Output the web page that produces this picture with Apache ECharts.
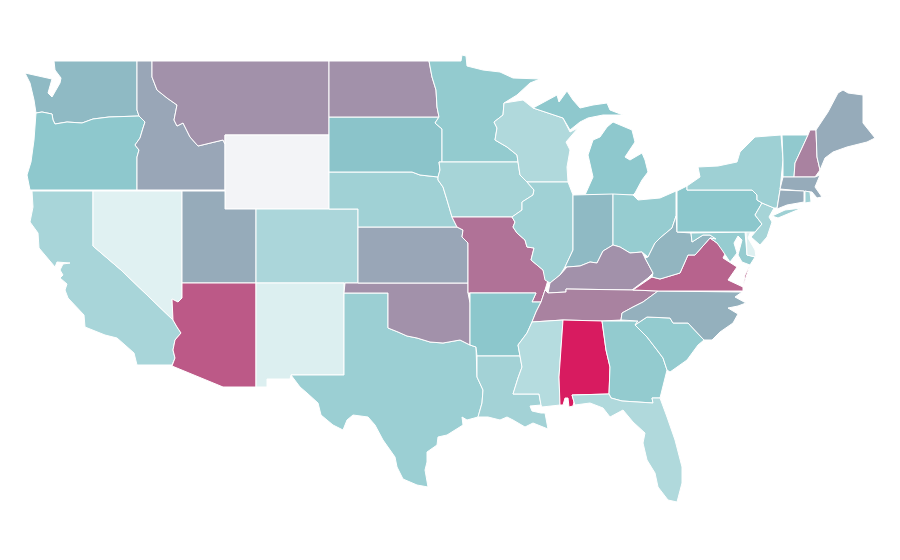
<!DOCTYPE html>
<html>
<head>
<meta charset="utf-8">
<style>html,body{margin:0;background:#fff}#main{width:900px;height:560px}</style>
<script src="https://cdn.jsdelivr.net/npm/echarts@6/dist/echarts.min.js"></script>
</head>
<body>
<div id="main"></div>
<script>
// state names and values (0-100 on the colour ramp)
const stateNames = ['Alabama','Arizona','Arkansas','California','Colorado','Connecticut','Delaware','Florida','Georgia','Idaho','Illinois','Indiana','Iowa','Kansas','Kentucky','Louisiana','Maine','Maryland','Massachusetts','Michigan','Minnesota','Mississippi','Missouri','Montana','Nebraska','Nevada','New Hampshire','New Jersey','New Mexico','New York','North Carolina','North Dakota','Ohio','Oklahoma','Oregon','Pennsylvania','Rhode Island','South Carolina','South Dakota','Tennessee','Texas','Utah','Vermont','Virginia','Washington','West Virginia','Wisconsin','Wyoming'];
const stateValues = [100,88,66,55,54,72,34,52,63,73,58,69,56,73,77,57,72,62,72,65,63,50,83,77,58,33,80,56,35,59,71,77,62,77,65,66,58,63,67,80,60,72,64,86,69,70,52,0];
const rampColors = ['#f3f4f7','#e0f1f2','#8ac6cb','#d81b60'];

// outlines for the base map, no map file can be loaded here. several rings = several parts
const stateShapes = {
  Washington: ['54,61 137,61 137,110 139,116 109,117 93,119 82,123 67,122 55,124 53,120 52,114 42,112 36,113 34,100 30,83 25,73 43,77 52,79 48,93 52,97 60,83 61,78 55,70'],
  Oregon: ['36,113 42,112 52,114 53,120 55,124 67,122 82,123 93,119 109,117 139,116 145,122 143,128 140,138 135,145 139,150 137,157 137,190 30,190 27,175 31,162 34,140'],
  California: ['32,191 93,191 93,246 121,270 173,320 177,327 181,333 175,340 173,350 175,358 172,365 137,365 134,353 125,345 117,338 105,335 90,329 85,327 84,315 68,298 65,290 67,284 60,278 63,275 60,270 63,264 70,263 57,262 55,267 39,248 38,233 30,222 33,207'],
  Nevada: ['93,191 182,191 182,298 178,302 172,299 173,320 121,270 93,246'],
  Idaho: ['137,61 152,61 152,77 157,90 167,98 177,105 174,120 177,126 183,123 190,137 198,146 223,140 225,144 225,190 137,190 137,157 139,150 135,145 140,138 143,128 145,122 139,116 137,110'],
  Montana: ['152,61 329,61 329,135 225,135 225,144 223,140 198,146 190,137 183,123 177,126 174,120 177,105 167,98 157,90 152,77'],
  Wyoming: ['225,135 329,135 329,209 225,209'],
  Utah: ['182,191 225,191 225,209 256,209 256,283 182,283'],
  Colorado: ['256,209 358,209 358,283 256,283'],
  Arizona: ['182,283 256,283 256,387 223,387 172,366 175,358 173,350 175,340 181,333 177,327 173,320 172,299 178,302 182,298'],
  'New Mexico': ['256,283 344,283 344,375 291,375 290,379 267,379 267,387 256,387'],
  Texas: ['344,293 388,293 388,328 398,332 407,336 417,338 430,342 443,343 460,340 470,345 476,347 477,377 483,390 482,403 478,417 467,420 462,417 463,425 447,435 438,437 437,445 427,452 427,462 425,470 428,487 417,485 403,479 397,467 395,457 383,440 375,425 368,417 353,415 347,420 343,430 333,425 321,415 318,403 307,393 300,387 291,375 344,375'],
  Oklahoma: ['345,283 468,283 468,293 470,303 470,345 460,340 443,343 430,342 417,338 407,336 398,332 388,328 388,293 344,293'],
  Kansas: ['358,227 457,227 463,230 462,237 468,243 468,283 358,283'],
  Nebraska: ['329,172 412,172 420,175 438,177 438,180 443,187 447,200 452,217 457,227 358,227 358,209 329,209'],
  'South Dakota': ['329,117 439,117 435,123 442,129 442,162 439,162 440,170 438,177 420,175 412,172 329,172'],
  'North Dakota': ['329,61 429,61 432,77 436,90 437,107 439,117 329,117'],
  Minnesota: ['429,61 461,61 462,55 466,56 467,66 483,70 500,72 513,78 540,79 530,83 517,95 504,103 503,115 494,122 497,128 495,140 507,147 517,155 518,162 442,162 442,129 435,123 439,117 437,107 436,90 432,77'],
  Iowa: ['439,162 518,162 520,175 527,182 534,190 533,195 522,202 522,210 512,217 452,217 447,200 443,187 438,180 438,177 440,170'],
  Missouri: ['452,217 512,217 515,222 513,227 517,233 525,240 527,247 534,248 531,260 543,270 548,280 545,290 541,302 532,302 536,293 468,293 468,243 462,237 463,230 457,227'],
  Arkansas: ['470,293 536,293 532,302 541,302 536,312 532,322 527,333 518,345 520,356 477,356 476,347 470,345 470,303'],
  Louisiana: ['477,356 520,356 522,367 518,378 513,394 539,394 541,405 530,406 532,411 541,413 545,413 548,429 533,423 525,427 513,420 507,417 500,420 488,417 478,417 482,403 483,390 477,377'],
  Wisconsin: ['504,103 523,100 533,108 563,118 568,128 570,132 578,128 566,142 570,150 567,167 568,182 527,182 520,175 518,162 517,155 507,147 495,140 497,128 494,122 503,115'],
  Illinois: ['527,182 568,182 573,195 573,250 565,267 560,275 550,283 545,280 543,270 531,260 534,248 527,247 525,240 517,233 513,227 515,222 512,217 522,210 522,202 533,195 534,190'],
  Michigan: [
    '533,108 557,95 559,102 567,91 573,100 580,108 593,105 607,103 610,110 623,115 603,115 588,118 580,122 570,130 563,118',
    '613,122 632,130 635,142 625,157 630,160 642,153 645,160 648,172 642,180 635,193 633,195 585,195 593,177 588,155 593,140 600,137 607,127'
  ],
  Indiana: ['573,195 613,194 613,245 603,251 597,263 590,262 580,266 567,267 565,267 573,250'],
  Ohio: ['613,194 633,195 638,200 660,198 676,191 676,216 672,228 660,238 655,243 648,257 642,252 630,253 620,247 613,245'],
  Kentucky: ['548,293 566,292 566,289 632,290 648,278 653,273 645,258 642,252 630,253 620,247 613,245 603,251 597,263 590,262 580,266 567,267 560,275 550,283'],
  Tennessee: ['548,293 566,292 566,289 632,290 658,291 643,302 633,307 622,313 621,320 602,321 563,320 532,322 536,312 541,302 545,290'],
  Mississippi: ['532,322 563,320 559,377 560,405 542,407 541,405 539,394 513,394 518,378 522,367 520,356 518,345 527,333'],
  Alabama: ['563,320 602,321 606,350 610,367 609,394 572,395 574,402 573,406 569,407 568,398 565,398 563,405 560,405 559,377'],
  Georgia: ['602,321 638,321 635,325 647,337 657,350 663,358 667,370 662,390 660,398 652,398 653,403 622,401 611,398 609,394 610,367 606,350'],
  Florida: ['572,395 609,394 611,398 622,401 653,403 652,398 660,398 667,417 675,440 682,467 682,483 677,502 668,500 658,487 655,473 647,460 643,443 645,433 633,422 623,410 610,417 603,408 590,403 575,405 574,402'],
  'South Carolina': ['635,325 647,317 670,318 673,323 688,323 704,340 698,345 687,360 670,372 667,370 663,358 657,350 647,337'],
  'North Carolina': ['658,291 742,292 735,297 746,303 738,306 728,308 738,314 733,323 720,332 712,340 704,340 688,323 673,323 670,318 647,317 635,325 638,321 621,320 622,313 633,307 643,302'],
  Virginia: ['633,290 652,277 660,279 680,273 688,255 695,255 710,238 717,243 727,250 723,258 737,267 728,280 743,287 743,291 658,291', '750,265 746,277 743,287 745,275'],
  'West Virginia': ['676,216 677,232 691,233 692,242 703,235 710,235 716,239 710,238 695,255 688,255 680,273 660,279 652,277 653,273 645,258 648,257 655,243 660,238 672,228'],
  Maryland: ['691,233 745,232 747,255 755,257 750,265 742,262 738,255 742,240 738,236 734,243 737,253 730,262 722,250 717,243 710,238 716,239 710,235 703,235 692,242'],
  Delaware: ['746,232 751,231 748,238 755,250 756,257 747,255'],
  Pennsylvania: ['677,191 687,186 687,190 752,190 757,195 757,200 762,203 755,215 762,224 755,232 677,232'],
  'New Jersey': ['762,203 774,208 769,217 772,222 767,237 760,245 751,237 762,224 755,215'],
  'New York': ['687,186 700,177 698,167 718,166 737,162 740,152 755,137 781,135 783,160 780,190 777,208 774,208 762,203 757,200 757,195 752,190 687,190', '772,216 785,210 802,208 790,213 778,218'],
  Vermont: ['782,135 808,135 802,148 795,163 794,177 783,177 783,160'],
  'New Hampshire': ['808,135 810,130 816,130 817,157 820,170 815,177 794,177 795,163 802,148'],
  Maine: ['816,130 828,112 838,93 843,90 848,93 863,95 863,123 875,138 867,142 847,147 833,152 825,158 820,170 817,157'],
  Massachusetts: ['783,177 815,177 820,175 815,187 822,197 830,195 817,198 812,192 780,189'],
  Connecticut: ['780,190 804,191 804,202 787,205 777,209'],
  'Rhode Island': ['805,191 810,192 811,202 805,203']
};

const mapFeatures = Object.keys(stateShapes).map(name => ({
  type: 'Feature',
  properties: { name: name },
  geometry: {
    type: 'MultiPolygon',
    coordinates: stateShapes[name].map(ring => [
      ring.split(' ').map(p => {
        const xy = p.split(',').map(Number);
        return [xy[0], -xy[1]];
      })
    ])
  }
}));
echarts.registerMap('usa', { type: 'FeatureCollection', features: mapFeatures });

const chart = echarts.init(document.getElementById('main'), null, { renderer: 'canvas' });
chart.setOption({
  animation: false,
  backgroundColor: '#fff',
  visualMap: {
    show: false,
    min: 0,
    max: 100,
    inRange: { color: rampColors }
  },
  series: [{
    type: 'map',
    map: 'usa',
    left: 25,
    top: 55,
    width: 850,
    height: 447,
    aspectScale: 1,
    silent: true,
    label: { show: false },
    itemStyle: { borderColor: '#fff', borderWidth: 1 },
    data: stateNames.map((name, i) => ({ name: name, value: stateValues[i] }))
  }]
});
</script>
</body>
</html>
